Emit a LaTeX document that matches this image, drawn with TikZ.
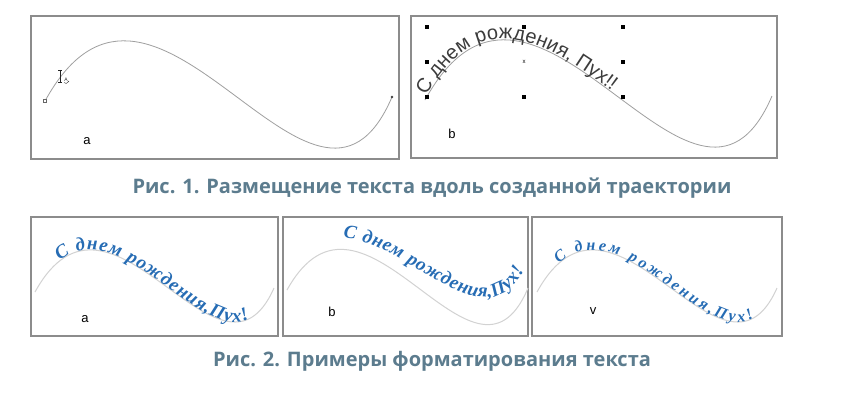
\documentclass[tikz,border=0pt]{standalone}
\usepackage{fontspec}
\usepackage{xcolor}
\usepackage{tikz}
\usetikzlibrary{positioning, decorations.text}

\newfontfamily\capfont{Open Sans}
\newfontfamily\labfont{Liberation Sans}
\newfontfamily\handfont{Liberation Serif}
\definecolor{capgray}{RGB}{92,124,142}
\definecolor{handblue}{RGB}{38,108,180}
\definecolor{framegray}{RGB}{140,140,140}
\definecolor{pathtext}{RGB}{60,60,60}

\begin{document}
\begin{tikzpicture}[
    x=1pt, y=-1pt,
    % Define styles for the frames, curves and texts
        frame/.style={draw=framegray, line width=1.3pt},
        curve/.style={draw=gray!75, line width=0.8pt},
        softcurve/.style={draw=gray!35, line width=1pt},
        letter/.style={font=\labfont\fontsize{13}{13}\selectfont, inner sep=0pt},
        caption/.style={font=\capfont\bfseries\fontsize{20}{20}\selectfont, text=capgray, inner sep=0pt},
        handle/.style={fill=black, inner sep=0pt, minimum size=3.8pt},
        handtext/.style={decorate, decoration={text along path, text color=handblue,
            text format delimiters={|}{|}, #1}}
    ]

        \fill[white] (0,0) rectangle (847,405);
        \useasboundingbox (0,0) rectangle (847,405);

        % Fig. 1, frames
        \draw[frame] (31,16) rectangle (399,159);
        \draw[frame] (411,16) rectangle (777,158);

        % Fig. 1 a: the path with the text cursor
        \coordinate (s1) at (45,101);
        \coordinate (p1a) at (155,-99);
        \coordinate (p1b) at (314,279);
        \coordinate (e1) at (392,97);
        \draw[curve] (s1) .. controls (p1a) and (p1b) .. (e1);
        \node[draw=gray!80!black, fill=white, inner sep=0pt, minimum size=3pt] (mark1) at (s1) {};
        \fill[gray!50!black] (e1) circle (1.3pt);

        \coordinate (ibtop) at (60,70);
        \coordinate (ibbot) at (60,82);
        \draw[line width=0.8pt, gray!30!black] (ibtop) -- (ibbot);
        \draw[line width=0.8pt, gray!30!black] ([xshift=-2pt]ibtop) -- ([xshift=2pt]ibtop);
        \draw[line width=0.8pt, gray!30!black] ([xshift=-2pt]ibbot) -- ([xshift=2pt]ibbot);
        \node[font=\labfont\fontsize{5}{5}\selectfont, text=gray!30!black, inner sep=0pt] (tool) at (66,80) {A};
        \draw[gray!30!black, line width=0.4pt] ([xshift=-2pt,yshift=-2.5pt]tool.center) .. controls ([yshift=-4pt]tool.center) .. ([xshift=3pt,yshift=-1pt]tool.center);

        \node[letter] (la) at (87,141) {a};

        % Fig. 1 b: text on the path, with selection handles
        \coordinate (s2) at (425,100);
        \coordinate (p2a) at (535,-100);
        \coordinate (p2b) at (694,278);
        \coordinate (e2) at (772,96);
        \draw[curve] (s2) .. controls (p2a) and (p2b) .. (e2);
        \path[decorate, decoration={text along path, text color=pathtext,
            text={|\labfont\fontsize{20}{20}\selectfont|С днем рождения, Пух!!},
            text align={left indent=4pt}, raise=1pt}]
            (s2) .. controls (p2a) and (p2b) .. (e2);

        \node[handle] (h1) at (427,27) {};
        \node[handle] (h2) at (524,27) {};
        \node[handle] (h3) at (623,27) {};
        \node[handle] (h4) at (427,62) {};
        \node[handle] (h5) at (623,62) {};
        \node[handle] (h6) at (427,97) {};
        \node[handle] (h7) at (524,97) {};
        \node[handle] (h8) at (623,97) {};
        \node[font=\labfont\fontsize{6}{6}\selectfont, inner sep=0pt] (hc) at (524,62) {x};

        \node[letter] (lb) at (452,134) {b};

        \node[caption] (cap1) at (432,188) {Рис. 1. Размещение текста вдоль созданной траектории};

        % Fig. 2, frames
        \draw[frame] (31,217) rectangle (278,336);
        \draw[frame] (283,217) rectangle (528,336);
        \draw[frame] (532,217) rectangle (782,336);

        % Fig. 2 a
        \coordinate (s3) at (35,292);
        \coordinate (p3a) at (111,154);
        \coordinate (p3b) at (220,410);
        \coordinate (e3) at (274,288);
        \draw[softcurve] (s3) .. controls (p3a) and (p3b) .. (e3);
        \path[handtext={text={|\handfont\bfseries\itshape\fontsize{19}{19}\selectfont|С днем рождения,Пух!},
            text align={left indent=40pt, right indent=40pt, fit to path}}]
            (s3) .. controls (p3a) and (p3b) .. (e3);
        \node[letter] (l2a) at (85,319) {a};

        % Fig. 2 b: the text runs on a line above the curve
        \coordinate (s4) at (287,290);
        \coordinate (p4a) at (363,153);
        \coordinate (p4b) at (474,417);
        \coordinate (e4) at (528,288);
        \draw[softcurve] (s4) .. controls (p4a) and (p4b) .. (e4);
        \coordinate (t4s) at (343,238);
        \coordinate (t4a) at (410,242);
        \coordinate (t4b) at (482,345);
        \coordinate (t4e) at (524,270);
        \path[handtext={text={|\handfont\bfseries\itshape\fontsize{19}{19}\selectfont|С днем рождения,Пух!},
            text align={fit to path}}]
            (t4s) .. controls (t4a) and (t4b) .. (t4e);
        \node[letter] (l2b) at (332,312) {b};

        % Fig. 2 v
        \coordinate (s5) at (537,292);
        \coordinate (p5a) at (613,154);
        \coordinate (p5b) at (723,410);
        \coordinate (e5) at (777,288);
        \draw[softcurve] (s5) .. controls (p5a) and (p5b) .. (e5);
        \path[handtext={text={|\handfont\bfseries\itshape\fontsize{16}{16}\selectfont|С днем рождения,Пух!},
            text align={left indent=36pt, right indent=38pt, fit to path}}]
            (s5) .. controls (p5a) and (p5b) .. (e5);
        \node[letter] (l2v) at (593,311) {v};

        \node[caption] (cap2) at (432,361) {Рис. 2. Примеры форматирования текста};
    \end{tikzpicture}
\end{document}
